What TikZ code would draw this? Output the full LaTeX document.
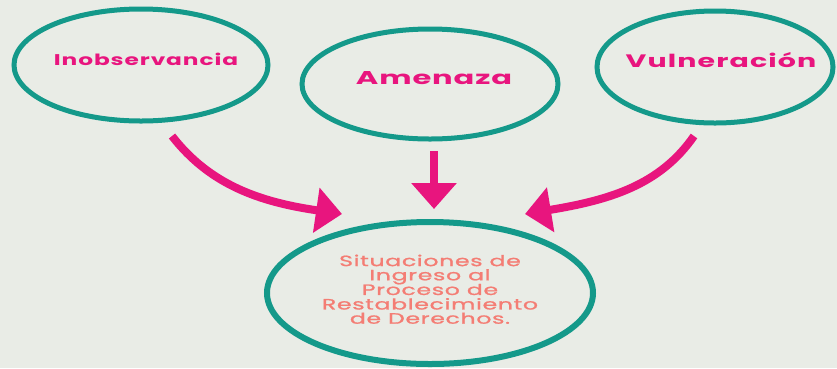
\documentclass[tikz,border=0pt]{standalone}
\usepackage{fontspec}
\setmainfont{Poppins}
\usetikzlibrary{arrows.meta}
\definecolor{bg}{HTML}{E9ECE6}
\definecolor{teal}{HTML}{14998A}
\definecolor{mag}{HTML}{E8157E}
\definecolor{salmon}{HTML}{F47D74}
\newcommand{\lowline}[1]{\fontsize{15}{17}\selectfont\addfontfeature{LetterSpace=3,FakeBold=1}#1}
\tikzset{
  ring/.style={draw=teal, line width=5pt},
  toplabel/.style={text=mag, inner sep=0pt},
  flow/.style={draw=mag, line width=8pt, -{Triangle[width=44pt,length=26pt]}}
}
\begin{document}
\begin{tikzpicture}[x=1pt,y=-1pt]
\fill[bg] (0,0) rectangle (837,368);
\useasboundingbox (0,0) rectangle (837,368);
\draw[ring] (141,65) ellipse [x radius=127, y radius=56];
\draw[ring] (430,84) ellipse [x radius=128, y radius=55];
\draw[ring] (715,67) ellipse [x radius=118, y radius=56];
\draw[ring, line width=6pt] (430,293) ellipse [x radius=163, y radius=71];
\node[toplabel, font=\fontsize{15.5}{17}\selectfont\bfseries\addfontfeature{LetterSpace=4}] (t1) at (146,59) {\scalebox{1.5}[1]{Inobservancia}};
\node[toplabel, font=\fontsize{18.5}{22}\selectfont\bfseries\addfontfeature{LetterSpace=3}] (t2) at (434,78) {\scalebox{1.65}[1]{Amenaza}};
\node[toplabel, font=\fontsize{18}{21}\selectfont\bfseries\addfontfeature{LetterSpace=4}] (t3) at (721,60) {\scalebox{1.58}[1]{Vulneración}};
\node[text=salmon, inner sep=0pt] (t4) at (430,291)
  {\scalebox{1.57}[1]{\begin{tabular}{@{}c@{}}\lowline{Situaciones de}\\[-0.5pt]\lowline{Ingreso al}\\[-0.5pt]\lowline{Proceso de}\\[-0.5pt]\lowline{Restablecimiento}\\[-0.5pt]\lowline{de Derechos.}\end{tabular}}};
\coordinate (a1s) at (172,136);
\coordinate (a1e) at (342,214);
\coordinate (a2s) at (434,151);
\coordinate (a2e) at (434,209);
\coordinate (a3s) at (694,136);
\coordinate (a3e) at (525,214);
\draw[flow] (a1s) .. controls (210,185) and (260,202) .. (a1e);
\draw[flow] (a2s) -- (a2e);
\draw[flow] (a3s) .. controls (660,185) and (610,200) .. (a3e);
\end{tikzpicture}
\end{document}
